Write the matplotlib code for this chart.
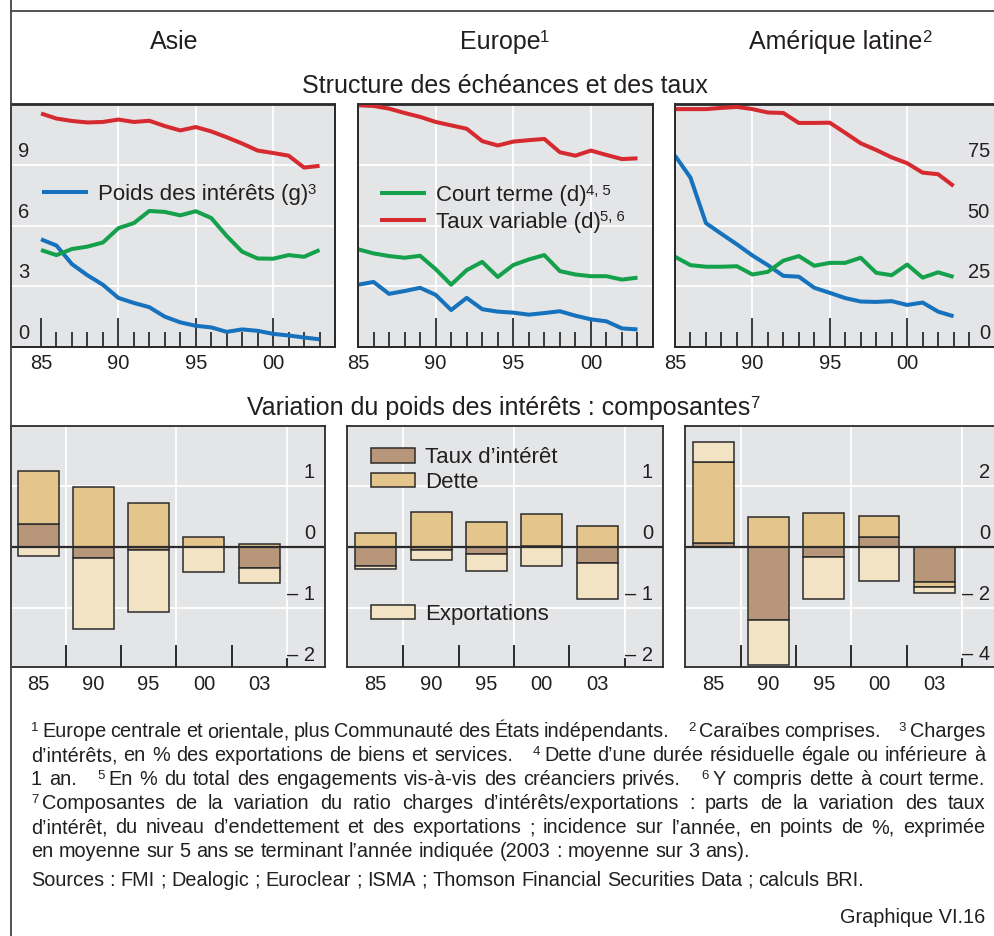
import matplotlib
matplotlib.use("Agg")
import matplotlib.pyplot as plt
import matplotlib.transforms as mtransforms
from matplotlib.lines import Line2D
from matplotlib.patches import Patch
import numpy as np

plt.rcParams['font.family'] = ['Liberation Sans', 'DejaVu Sans']

# ---- data -------------------------------------------------------------
years = np.arange(1985, 2004)

asie_poids = [5.33, 5.02, 4.1, 3.55, 3.08, 2.43, 2.18, 1.97, 1.5, 1.22,
              1.05, 0.97, 0.75, 0.87, 0.8, 0.65, 0.57, 0.47, 0.38]
asie_court = [40.0, 37.9, 40.4, 41.4, 43.1, 49.0, 51.1, 56.1, 55.7, 54.3,
              56.0, 53.2, 45.8, 39.3, 36.5, 36.4, 37.9, 37.2, 40.0]
asie_taux = [96.3, 94.2, 93.2, 92.6, 92.8, 93.8, 92.8, 93.3, 91.1, 89.3,
             90.7, 88.9, 86.5, 83.9, 81.0, 80.0, 78.9, 74.0, 74.7]

europe_poids = [3.08, 3.22, 2.63, 2.77, 2.93, 2.58, 1.83, 2.43, 1.87, 1.75,
                1.7, 1.6, 1.68, 1.77, 1.55, 1.37, 1.27, 0.92, 0.87]
europe_court = [40.3, 38.6, 37.5, 36.8, 37.6, 32.1, 25.7, 31.7, 35.1, 28.9,
                33.8, 36.1, 37.9, 31.3, 29.9, 29.2, 29.2, 27.8, 28.6]
europe_taux = [99.7, 99.4, 98.3, 96.5, 94.9, 92.8, 91.4, 90.0, 84.9, 83.1,
               84.7, 85.3, 85.8, 80.3, 78.9, 81.0, 79.2, 77.5, 77.8]

latam_poids = [9.47, 8.38, 6.13, 5.6, 5.08, 4.53, 4.05, 3.52, 3.48, 2.93,
               2.68, 2.42, 2.25, 2.23, 2.27, 2.08, 2.2, 1.75, 1.52]
latam_court = [37.2, 33.75, 33.1, 33.1, 33.3, 29.9, 31.0, 35.6, 37.5, 33.5,
               34.7, 34.7, 36.8, 30.6, 29.6, 34.0, 28.6, 30.8, 28.9]
latam_taux = [98.1, 98.1, 98.1, 98.6, 99.0, 98.1, 96.7, 96.5, 92.4, 92.4,
              92.5, 88.3, 84.0, 81.25, 78.2, 75.8, 71.9, 71.25, 66.4]

major_years = [1985, 1990, 1995, 2000]
major_labels = ["85", "90", "95", "00"]

bar_labels = ["85", "90", "95", "00", "03"]
asie_interet = [0.38, -0.19, -0.06, -0.01, -0.34]
asie_dette = [0.87, 0.98, 0.72, 0.16, 0.04]
asie_export = [-0.15, -1.15, -1.01, -0.41, -0.25]
europe_interet = [-0.31, -0.06, -0.11, 0.02, -0.27]
europe_dette = [0.23, 0.57, 0.41, 0.51, 0.34]
europe_export = [-0.05, -0.15, -0.29, -0.31, -0.59]
latam_interet = [0.11, -2.41, -0.33, 0.33, -1.17]
latam_dette = [2.67, 0.98, 1.11, 0.67, -0.17]
latam_export = [0.67, -1.50, -1.39, -1.13, -0.17]

# ---- style ------------------------------------------------------------
BG = '#e4e5e7'
DARK = '#2b2b2b'
TXT = '#231f20'
RED = '#d42a30'
GREEN = '#15a04c'
BLUE = '#1672bd'
C_INT = '#b8967a'
C_DET = '#e4c68d'
C_EXP = '#f1e3c3'
SUP_R = 0.67     # superscript size ratio
SUP_RISE = 0.28  # superscript rise, in em

W, H = 995, 936
fig = plt.figure(figsize=(W / 100, H / 100), dpi=100)


def px(pt):
    return pt * 100 / 72


def rect(x0, y0, x1, y1):
    # pixel box (top-left origin) -> figure fraction
    return [x0 / W, 1 - y1 / H, (x1 - x0) / W, (y1 - y0) / H]


def inside_labels(ax, values, labels, side):
    base = mtransforms.blended_transform_factory(ax.transAxes, ax.transData)
    if side == 'left':
        tr = base + mtransforms.ScaledTranslation(0.07, 0.08, fig.dpi_scale_trans)
        x, ha = 0, 'left'
    else:
        tr = base + mtransforms.ScaledTranslation(-0.10, 0.08, fig.dpi_scale_trans)
        x, ha = 1, 'right'
    for v, lab in zip(values, labels):
        ax.text(x, v, lab, transform=tr, ha=ha, va='baseline', fontsize=14.5,
                color=TXT, zorder=5)


def style_spines(ax):
    for s in ax.spines.values():
        s.set_color(DARK)
        s.set_linewidth(1.3)


def top_panel(box, poids, court, taux, xlim):
    ax = fig.add_axes(rect(*box))
    ax.set_facecolor(BG)
    ax2 = ax.twinx()
    ax.set_xlim(*xlim)
    ax.set_ylim(0, 12)
    ax2.set_ylim(0, 100)
    for v in [3, 6, 9]:
        ax.axhline(v, color='white', lw=1.3, zorder=0)
    for yr in [1990, 1995, 2000]:
        ax.axvline(yr, color='white', lw=1.3, zorder=0)
    lb, = ax.plot(years, poids, color=BLUE, lw=2.9, solid_capstyle='butt')
    lg, = ax2.plot(years, court, color=GREEN, lw=2.9, solid_capstyle='butt')
    lr, = ax2.plot(years, taux, color=RED, lw=2.9, solid_capstyle='butt')
    ax.set_xticks(major_years, labels=major_labels)
    ax.set_xticks(np.arange(1985, 2005), minor=True)
    ax.tick_params(axis='x', which='major', direction='in', length=21, width=1.3,
                   color=DARK, labelsize=14.5, labelcolor=TXT, pad=5)
    ax.tick_params(axis='x', which='minor', direction='in', length=11, width=1.3,
                   color=DARK)
    ax.set_yticks([])
    ax2.set_yticks([])
    style_spines(ax)
    style_spines(ax2)
    return ax, ax2, lb, lg, lr


def bar_panel(box, interet, dette, export, xlim, ylim, grid_vals,
              label_vals, label_txt):
    ax = fig.add_axes(rect(*box))
    ax.set_facecolor(BG)
    x = np.arange(len(bar_labels))
    pos = np.zeros(len(x))
    neg = np.zeros(len(x))
    for vals, c in [(interet, C_INT), (dette, C_DET), (export, C_EXP)]:
        vals = np.asarray(vals, dtype=float)
        bottom = np.where(vals >= 0, pos, neg)
        ax.bar(x, vals, width=0.74, bottom=bottom, color=c, edgecolor=DARK,
               linewidth=1.1, zorder=2)
        pos += np.clip(vals, 0, None)
        neg += np.clip(vals, None, 0)
    for g in grid_vals:
        ax.axhline(g, color='white', lw=1.3, zorder=1)
    for b in [0.5, 2.5, 4.5]:
        ax.axvline(b, color='white', lw=1.3, zorder=1)
    ax.axhline(0, color=DARK, lw=1.6, zorder=3)
    ax.axvline(4.5, ymin=0, ymax=0.032, color=DARK, lw=1.4, zorder=3)
    ax.set_xlim(*xlim)
    ax.set_ylim(*ylim)
    ax.set_xticks(x, labels=bar_labels)
    ax.set_xticks([0.5, 1.5, 2.5, 3.5], minor=True)
    ax.tick_params(axis='x', which='major', length=0, labelsize=14.5,
                   labelcolor=TXT, pad=6)
    ax.tick_params(axis='x', which='minor', direction='in', length=16, width=1.4,
                   color=DARK)
    ax.set_yticks([])
    style_spines(ax)
    inside_labels(ax, label_vals, label_txt, 'right')
    return ax


# ---- top row ------------------------------------------------------------
a1, a1b, lb, lg, lr = top_panel((11, 104.5, 335, 347), asie_poids, asie_court,
                                asie_taux, (1983.06, 2004))
inside_labels(a1, [0, 3, 6, 9], ['0', '3', '6', '9'], 'left')
leg_a = a1.legend([lb], ['Poids des intérêts (g)'], loc='center left',
                  bbox_to_anchor=(0.096, 0.63), frameon=False, fontsize=16,
                  handlelength=2.05, handletextpad=0.45, borderpad=0,
                  borderaxespad=0, labelcolor=TXT)

a2, a2b, lb2, lg2, lr2 = top_panel((358, 104.5, 653, 347), europe_poids,
                                   europe_court, europe_taux, (1985, 2004))
leg_e = a2b.legend([lg2, lr2], ['Court terme (d)', 'Taux variable (d)'],
                   loc='center left', bbox_to_anchor=(0.075, 0.57), frameon=False,
                   fontsize=16, handlelength=2.05, handletextpad=0.45,
                   labelspacing=0.25, borderpad=0, borderaxespad=0, labelcolor=TXT)

a3, a3b, *_ = top_panel((675, 104.5, 1000, 347), latam_poids, latam_court,
                        latam_taux, (1985, 2006.0))
inside_labels(a3b, [0, 25, 50, 75], ['0', '25', '50', '75'], 'right')

# ---- bottom row -----------------------------------------------------------
m2 = '\u2013 '
b1 = bar_panel((11, 426, 325, 667), asie_interet, asie_dette, asie_export,
               (-0.49, 5.19), (-1.97, 1.98), [-1, 1],
               [1, 0, -1, -2], ['1', '0', m2 + '1', m2 + '2'])
b2 = bar_panel((347, 426, 663, 667), europe_interet, europe_dette, europe_export,
               (-0.52, 5.19), (-1.97, 1.98), [-1, 1],
               [1, 0, -1, -2], ['1', '0', m2 + '1', m2 + '2'])
b3 = bar_panel((685, 426, 1000, 667), latam_interet, latam_dette, latam_export,
               (-0.51, 5.19), (-3.96, 3.98), [-2, 2],
               [2, 0, -2, -4], ['2', '0', m2 + '2', m2 + '4'])

p_int = Patch(facecolor=C_INT, edgecolor=DARK, linewidth=1.1)
p_det = Patch(facecolor=C_DET, edgecolor=DARK, linewidth=1.1)
p_exp = Patch(facecolor=C_EXP, edgecolor=DARK, linewidth=1.1)
leg_kw = dict(frameon=False, fontsize=16, handlelength=2.0, handleheight=0.62,
              handletextpad=0.45, labelspacing=0.15, borderpad=0,
              borderaxespad=0, labelcolor=TXT, loc='center left')
l1 = b2.legend([p_int, p_det], ['Taux d’intérêt', 'Dette'],
               bbox_to_anchor=(0.076, 0.818), **leg_kw)
b2.add_artist(l1)
b2.legend([p_exp], ['Exportations'], bbox_to_anchor=(0.076, 0.219), **leg_kw)


# ---- titles ---------------------------------------------------------------
def ftext(x, y, s, **kw):
    kw.setdefault('color', TXT)
    return fig.text(x / W, 1 - y / H, s, **kw)


ftext(174, 42, 'Asie', fontsize=18, ha='center', va='center')
t_eu = ftext(500, 42, 'Europe', fontsize=18, ha='center', va='center')
t_la = ftext(836, 42, 'Amérique latine', fontsize=18, ha='center', va='center')
ftext(505, 86, 'Structure des échéances et des taux', fontsize=18,
      ha='center', va='center')
t_var = ftext(499, 408, 'Variation du poids des intérêts : composantes',
              fontsize=18, ha='center', va='center')

# frame lines
fig.add_artist(Line2D([11 / W, 11 / W], [0, 1], color='#444444', lw=1.3))
fig.add_artist(Line2D([11 / W, 1], [1 - 11 / H, 1 - 11 / H], color='#444444',
                      lw=1.3))

# ---- superscripts placed after their text ---------------------------------
fig.canvas.draw()
renderer = fig.canvas.get_renderer()


def add_sup(txt, sup, gap=-0.5):
    bb = txt.get_window_extent(renderer)
    prop = txt.get_fontproperties()
    d = max(renderer.get_text_width_height_descent(txt.get_text(), prop, ismath=False)[2],
            renderer.get_text_width_height_descent('lp', prop, ismath=False)[2])
    fs = txt.get_fontsize()
    base = bb.y0 + d + px(fs) * SUP_RISE
    fig.text((bb.x1 + gap) / W, base / H, sup, fontsize=fs * SUP_R,
             va='baseline', ha='left', color=TXT)


add_sup(t_eu, '1')
add_sup(t_la, '2')
add_sup(t_var, '7')
add_sup(leg_a.get_texts()[0], '3')
add_sup(leg_e.get_texts()[0], '4, 5')
add_sup(leg_e.get_texts()[1], '5, 6')

# ---- footnotes (justified) -------------------------------------------------
FN = 14.3


def text_width(s):
    t = fig.text(0, 0, s, fontsize=FN)
    w = t.get_window_extent(renderer).width
    t.remove()
    return w


space_w = text_width('a a') - text_width('aa')


def foot_line(y, segments, justify=True, x0=31, x1=985, sep=14):
    # items: (string, fontsize, rise_px, fixed gap before, stretchable gap before)
    items = []
    for i, (sup, seg) in enumerate(segments):
        if sup:
            items.append((sup, FN * SUP_R, px(FN) * SUP_RISE, sep if i else 0, i > 0))
        for j, w in enumerate(seg.split(' ')):
            if j == 0 and sup:
                items.append((w, FN, 0, 3.5, False))
            elif j == 0:
                items.append((w, FN, 0, sep if i else 0, i > 0))
            else:
                items.append((w, FN, 0, 0, True))
    texts = [ftext(0, y - rise, s, fontsize=fs, va='baseline')
             for s, fs, rise, _, _ in items]
    widths = [t.get_window_extent(renderer).width for t in texts]
    n_stretch = sum(1 for it in items[1:] if it[4])
    fixed = sum(it[3] for it in items[1:])
    if justify and n_stretch:
        gap = (x1 - x0 - sum(widths) - fixed) / n_stretch
    else:
        gap = space_w
    x = x0
    for k, (t, w, it) in enumerate(zip(texts, widths, items)):
        if k > 0:
            x += it[3] + (gap if it[4] else 0)
        t.set_x(x / W)
        x += w


foot_line(737, [('1', 'Europe centrale et orientale, plus Communauté des États indépendants.'),
                ('2', 'Caraïbes comprises.'), ('3', 'Charges')])
foot_line(761, [(None, 'd’intérêts, en % des exportations de biens et services.'),
                ('4', 'Dette d’une durée résiduelle égale ou inférieure à')])
foot_line(785, [(None, '1 an.'),
                ('5', 'En % du total des engagements vis-à-vis des créanciers privés.'),
                ('6', 'Y compris dette à court terme.')])
foot_line(809, [('7', 'Composantes de la variation du ratio charges d’intérêts/exportations : '
                      'parts de la variation des taux')])
foot_line(833, [(None, 'd’intérêt, du niveau d’endettement et des exportations ; incidence sur '
                       'l’année, en points de %, exprimée')])
foot_line(857, [(None, 'en moyenne sur 5 ans se terminant l’année indiquée '
                       '(2003 : moyenne sur 3 ans).')], justify=False)
foot_line(886, [(None, 'Sources : FMI ; Dealogic ; Euroclear ; ISMA ; Thomson Financial '
                       'Securities Data ; calculs BRI.')], justify=False)
ftext(985, 923, 'Graphique VI.16', fontsize=FN, ha='right', va='baseline')

fig.savefig('out.png', dpi=100)
